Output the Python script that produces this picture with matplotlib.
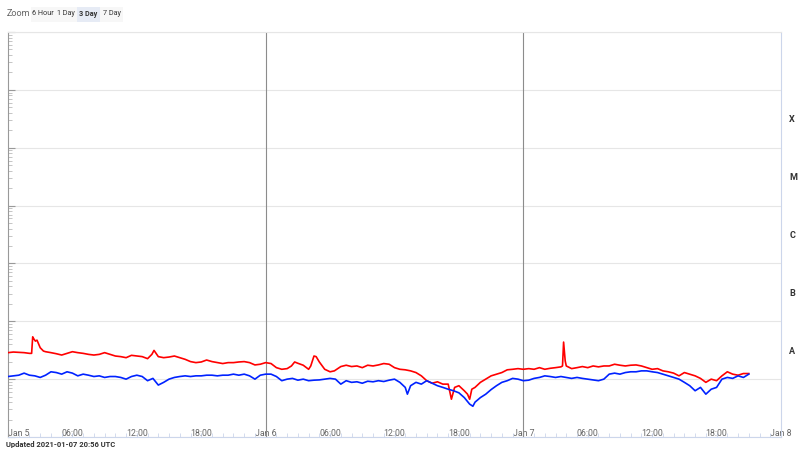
import matplotlib
matplotlib.use("Agg")
import matplotlib.pyplot as plt
import matplotlib.ticker as mticker
from matplotlib.patches import Rectangle
import numpy as np

plt.rcParams['font.family'] = ['Roboto', 'DejaVu Sans']

# Hours since 2021-01-05 00:00 UTC; flux in units of 1e-8 W/m^2
red_hours = [0, 0.5, 1, 1.5, 2, 2.2, 2.3, 2.4, 2.55, 2.7, 3.0, 3.3, 3.5, 4, 4.5, 5, 5.5, 6, 6.5, 7, 7.5,
             8, 8.5, 9, 9.5, 10, 10.5, 11, 11.5, 12, 12.5, 13, 13.4, 13.6, 14, 14.5, 15, 15.5, 16, 16.5,
             17, 17.5, 18, 18.5, 19, 19.5, 20, 20.5, 21, 21.5, 22, 22.5, 23, 23.5, 24, 24.5, 25, 25.5,
             26, 26.4, 26.7, 27, 27.5, 28, 28.2, 28.5, 28.7, 29, 29.5, 30, 30.4, 31, 31.5, 32, 32.5, 33,
             33.5, 34, 34.5, 35, 35.5, 36, 36.5, 37, 37.5, 38, 38.5, 39, 39.5, 40, 40.5, 41, 41.3, 41.6,
             42, 42.5, 42.8, 43, 43.2, 43.5, 44, 44.5, 45, 45.5, 46, 46.5, 47, 47.5, 48, 48.5, 49, 49.5,
             50, 50.5, 51, 51.5, 51.65, 51.75, 51.9, 52, 52.5, 53, 53.5, 54, 54.5, 55, 55.5, 56, 56.5,
             57, 57.5, 58, 58.5, 59, 59.5, 60, 60.5, 61, 61.5, 62, 62.5, 63, 63.5, 64, 64.5, 65, 65.5,
             66, 66.5, 67, 67.5, 68, 68.5, 69]
red_flux = [2.87, 2.94, 2.90, 2.87, 2.79, 2.79, 5.39, 4.98, 4.54, 4.72, 3.49, 3.06, 2.98, 2.87, 2.75, 2.61,
            2.79, 2.98, 2.87, 2.79, 2.68, 2.61, 2.68, 2.87, 2.68, 2.51, 2.45, 2.35, 2.58, 2.51, 2.45, 2.26,
            2.68, 3.14, 2.45, 2.35, 2.41, 2.51, 2.35, 2.20, 2.01, 1.93, 1.98, 2.14, 2.01, 1.93, 1.86, 1.93,
            1.93, 1.98, 2.01, 1.93, 1.76, 1.81, 1.93, 1.86, 1.58, 1.48, 1.52, 1.69, 1.98, 1.88, 1.74, 1.48,
            1.69, 2.51, 2.45, 1.98, 1.48, 1.34, 1.39, 1.65, 1.74, 1.65, 1.69, 1.58, 1.74, 1.69, 1.76, 1.86,
            1.81, 1.58, 1.48, 1.45, 1.39, 1.30, 1.14, 0.94, 0.85, 0.90, 0.82, 0.82, 0.45, 0.72, 0.77, 0.63,
            0.55, 0.45, 0.67, 0.72, 0.88, 1.00, 1.14, 1.22, 1.30, 1.45, 1.48, 1.52, 1.48, 1.52, 1.48, 1.58,
            1.48, 1.54, 1.58, 1.63, 1.69, 4.37, 2.06, 1.69, 1.52, 1.58, 1.65, 1.58, 1.69, 1.63, 1.69, 1.69,
            1.81, 1.74, 1.69, 1.74, 1.76, 1.69, 1.58, 1.48, 1.52, 1.39, 1.34, 1.27, 1.14, 1.30, 1.22, 1.14,
            1.03, 0.88, 1.00, 0.94, 1.14, 1.34, 1.22, 1.17, 1.25, 1.25]

blue_hours = [0, 0.5, 1, 1.5, 2, 2.5, 3, 3.5, 4, 4.5, 5, 5.5, 6, 6.5, 7, 7.5, 8, 8.5, 9, 9.5, 10, 10.5,
              11, 11.5, 12, 12.5, 13, 13.5, 14, 14.5, 15, 15.5, 16, 16.5, 17, 17.5, 18, 18.5, 19, 19.5,
              20, 20.5, 21, 21.5, 22, 22.5, 23, 23.5, 24, 24.5, 25, 25.5, 26, 26.5, 27, 27.5, 28, 28.5,
              29, 29.5, 30, 30.5, 31, 31.5, 32, 32.5, 33, 33.5, 34, 34.5, 35, 35.5, 36, 36.5, 37, 37.2,
              37.5, 38, 38.5, 39, 39.5, 40, 40.5, 41, 41.5, 42, 42.5, 43, 43.3, 43.5, 44, 44.5, 45, 45.5,
              46, 46.5, 47, 47.5, 48, 48.5, 49, 49.5, 50, 50.5, 51, 51.5, 52, 52.5, 53, 53.5, 54, 54.5,
              55, 55.5, 56, 56.5, 57, 57.5, 58, 58.5, 59, 59.5, 60, 60.5, 61, 61.5, 62, 62.5, 63, 63.5,
              64, 64.5, 65, 65.5, 66, 66.5, 67, 67.5, 68, 68.5, 69]
blue_flux = [1.11, 1.14, 1.17, 1.27, 1.17, 1.14, 1.07, 1.17, 1.34, 1.30, 1.22, 1.34, 1.27, 1.14, 1.22, 1.17,
             1.11, 1.14, 1.07, 1.11, 1.11, 1.07, 1.00, 1.11, 1.17, 1.11, 0.94, 1.03, 0.79, 0.88, 1.00, 1.07,
             1.11, 1.14, 1.11, 1.14, 1.14, 1.17, 1.17, 1.14, 1.17, 1.17, 1.22, 1.17, 1.22, 1.14, 1.00, 1.17,
             1.22, 1.22, 1.11, 0.94, 1.00, 1.03, 0.96, 1.00, 0.94, 0.96, 0.97, 1.00, 1.03, 1.00, 0.82, 0.94,
             0.88, 0.90, 0.85, 0.92, 0.90, 0.94, 0.91, 0.96, 1.00, 0.88, 0.72, 0.55, 0.77, 0.88, 0.82, 0.94,
             0.85, 0.77, 0.72, 0.67, 0.63, 0.58, 0.48, 0.37, 0.34, 0.40, 0.48, 0.55, 0.66, 0.77, 0.88, 0.94,
             1.03, 1.00, 0.94, 0.96, 1.03, 1.07, 1.14, 1.11, 1.07, 1.11, 1.07, 1.03, 1.07, 1.03, 1.00, 0.97,
             0.94, 1.00, 1.22, 1.27, 1.22, 1.30, 1.34, 1.34, 1.39, 1.39, 1.34, 1.30, 1.22, 1.14, 1.07, 1.00,
             0.88, 0.77, 0.63, 0.72, 0.55, 0.67, 0.72, 1.00, 1.07, 1.03, 1.14, 1.07, 1.22]

tick_hours = [0, 6, 12, 18, 24, 30, 36, 42, 48, 54, 60, 66, 72]
tick_labels = ["Jan 5", "06:00", "12:00", "18:00", "Jan 6", "06:00", "12:00", "18:00",
               "Jan 7", "06:00", "12:00", "18:00", "Jan 8"]
day_lines = [24, 48]
class_labels = ["X", "M", "C", "B", "A"]
class_levels = [10**-3.5, 10**-4.5, 10**-5.5, 10**-6.5, 10**-7.5]
zoom_buttons = ["6 Hour", "1 Day", "3 Day", "7 Day"]
selected_button = "3 Day"
updated_text = "Updated 2021-01-07 20:56 UTC"

W, H = 800, 450
fig = plt.figure(figsize=(8, 4.5), dpi=100)
fig.patch.set_facecolor("white")
ax = fig.add_axes([8 / W, (H - 437) / H, (781 - 8) / W, (437 - 32) / H])

scale = 1e-8
ax.plot(red_hours, np.array(red_flux) * scale, color="#ff0000", lw=1.2, zorder=3)
ax.plot(blue_hours, np.array(blue_flux) * scale, color="#0022ff", lw=1.2, zorder=4)

ax.set_yscale("log")
ax.set_ylim(1e-9, 1e-2)
ax.set_xlim(0, 72)

ax.yaxis.set_major_locator(mticker.LogLocator(base=10, numticks=20))
ax.yaxis.set_minor_locator(mticker.LogLocator(base=10, subs=np.arange(2, 10), numticks=20))
ax.yaxis.set_major_formatter(mticker.NullFormatter())
ax.yaxis.set_minor_formatter(mticker.NullFormatter())
ax.grid(axis="y", which="major", color="#e6e6e6", lw=0.8, zorder=0)
for d in day_lines:
    ax.axvline(d, color="#8c8c8c", lw=0.8, zorder=2)

ax.tick_params(axis="y", which="major", direction="in", length=5, color="#999999", width=0.8)
ax.tick_params(axis="y", which="minor", direction="in", length=3, color="#bbbbbb", width=0.6)

ax.set_xticks(tick_hours)
ax.set_xticklabels(tick_labels)
ax.xaxis.set_minor_locator(mticker.MultipleLocator(1))
ax.tick_params(axis="x", which="major", direction="in", length=3, color="#ccd6eb",
               labelsize=6.3, labelcolor="#666666", pad=-5.5)
ax.tick_params(axis="x", which="minor", direction="in", length=3, color="#ccd6eb")
lbls = ax.get_xticklabels()
lbls[0].set_horizontalalignment("left")

ax.spines["top"].set_color("#e6e6e6")
ax.spines["bottom"].set_color("#ccd6eb")
ax.spines["right"].set_color("#ccd6eb")
ax.spines["left"].set_color("#999999")
for s in ax.spines.values():
    s.set_linewidth(0.8)

# class labels on right
ax2 = ax.twinx()
ax2.set_yscale("log")
ax2.set_ylim(1e-9, 1e-2)
ax2.set_yticks(class_levels)
ax2.set_yticklabels(class_labels)
ax2.yaxis.set_minor_locator(mticker.NullLocator())
ax2.tick_params(axis="y", length=0, pad=6, labelsize=6.5, labelcolor="#333333")
for t in ax2.get_yticklabels():
    t.set_fontweight("bold")
for s in ax2.spines.values():
    s.set_visible(False)

# zoom buttons
fig.text(7 / W, 1 - 13 / H, "Zoom", fontsize=6.5, color="#666666", va="center", ha="left")
btn_left = [31, 54, 77, 100]
btn_w = 23
for label, bx in zip(zoom_buttons, btn_left):
    sel = label == selected_button
    fig.patches.append(Rectangle((bx / W, 1 - 22 / H), btn_w / W, 15 / H, transform=fig.transFigure,
                                 fc="#e6ebf5" if sel else "#f7f7f7", ec="none"))
    fig.text((bx + btn_w / 2) / W, 1 - 13.5 / H, label, fontsize=5.2, color="#333333",
             va="center", ha="center", fontweight="bold" if sel else "normal")

fig.text(6 / W, 1 - 444 / H, updated_text, fontsize=5.5, fontweight="bold", color="#333333",
         va="center", ha="left")

fig.savefig("out.png", dpi=100)
